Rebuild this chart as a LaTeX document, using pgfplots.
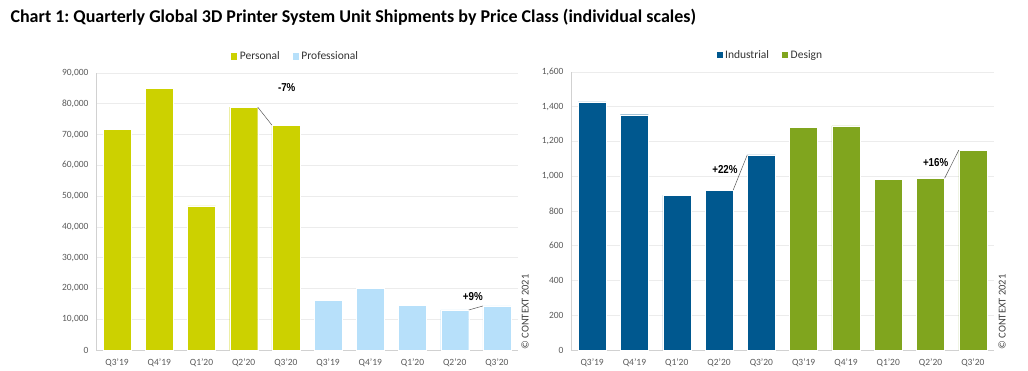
\documentclass[border=0pt]{standalone}
\usepackage{fontspec}
\setmainfont{Carlito}
\newfontfamily\narrow[FakeStretch=0.85]{Liberation Sans}
\usepackage{pgfplots}
\pgfplotsset{compat=1.18}
\frenchspacing
\definecolor{personal}{RGB}{204,209,0}
\definecolor{prof}{RGB}{183,224,250}
\definecolor{indus}{RGB}{0,88,143}
\definecolor{design}{RGB}{128,165,30}
\definecolor{tickgray}{RGB}{89,89,89}
\definecolor{gridc}{RGB}{236,236,236}
\pgfplotsset{
  mybars/.style={
    scale only axis,
    anchor=south west,
    ybar,
    xmin=-0.5, xmax=9.5,
    xtick={0,...,9},
    xticklabels={Q3'19,Q4'19,Q1'20,Q2'20,Q3'20,Q3'19,Q4'19,Q1'20,Q2'20,Q3'20},
    ymin=0,
    ymajorgrids,
    grid style={gridc, line width=0.7pt},
    axis x line*=bottom, axis y line*=left,
    axis line style={draw=black!18, line width=0.7pt},
    major tick length=0pt,
    tick style={draw=none},
    tick label style={font=\fontsize{9.5}{11}\selectfont, text=tickgray},
    yticklabel style={xshift=-4pt},
    xticklabel style={yshift=-5pt},
    /pgf/number format/assume math mode=true,
    /pgf/number format/1000 sep={,},
    scaled y ticks=false,
    legend style={draw=none, fill=none, font=\fontsize{11.5}{13}\selectfont, text=black!80,
      legend columns=2, anchor=center,
      /tikz/every even column/.append style={column sep=10pt}},
    legend image code/.code={\fill[##1] (0pt,-3.6pt) rectangle (7.2pt,3.6pt);},
  },
  barsty/.style={fill=#1, draw=white, line width=0.4pt, bar width=28pt, bar shift=0pt},
}
\begin{document}
\begin{tikzpicture}
\useasboundingbox (0pt,0pt) rectangle (1028pt,-371pt);
\node[anchor=west, font=\fontsize{18}{21}\selectfont\bfseries] at (7pt,-17pt)
  {Chart 1: Quarterly Global 3D Printer System Unit Shipments by Price Class (individual scales)};

\begin{axis}[mybars, at={(96pt,-350pt)}, width=422pt, height=277pt,
  ymax=90000, ytick={0,10000,...,90000},
  legend style={at={(0.472,1.061)}}]
\addplot[barsty=personal] coordinates {(0,71800) (1,85100) (2,46800) (3,78900) (4,73100)};
\addplot[barsty=prof] coordinates {(5,16200) (6,20100) (7,14600) (8,13000) (9,14300)};
\legend{Personal, Professional}
\draw[black!65, line width=0.5pt] (axis cs:3.333,78900) -- (axis cs:3.667,73100);
\draw[black!65, line width=0.5pt] (axis cs:8.333,13000) -- (axis cs:8.667,14300);
\node[font=\narrow\bfseries\fontsize{11.5}{13}\selectfont] at (axis cs:4.02,85350) {-7\%};
\node[font=\narrow\bfseries\fontsize{11.5}{13}\selectfont] at (axis cs:8.43,17320) {+9\%};
\end{axis}

\begin{axis}[mybars, at={(571pt,-350pt)}, width=423pt, height=278pt,
  ymax=1600, ytick={0,200,...,1600},
  legend style={at={(0.470,1.061)}}]
\addplot[barsty=indus] coordinates {(0,1428) (1,1354) (2,891) (3,920) (4,1123)};
\addplot[barsty=design] coordinates {(5,1283) (6,1290) (7,983) (8,989) (9,1150)};
\legend{Industrial, Design}
\draw[black!65, line width=0.5pt] (axis cs:3.333,920) -- (axis cs:3.667,1123);
\draw[black!65, line width=0.5pt] (axis cs:8.333,989) -- (axis cs:8.667,1150);
\node[font=\narrow\bfseries\fontsize{11.5}{13}\selectfont] at (axis cs:3.14,1040) {+22\%};
\node[font=\narrow\bfseries\fontsize{11.5}{13}\selectfont] at (axis cs:8.12,1078) {+16\%};
\end{axis}

\node[rotate=90, font=\fontsize{10.5}{12}\selectfont, text=black!75] at (525pt,-312pt) {© CONTEXT 2021};
\node[rotate=90, font=\fontsize{10.5}{12}\selectfont, text=black!75] at (1002pt,-312pt) {© CONTEXT 2021};
\end{tikzpicture}
\end{document}
